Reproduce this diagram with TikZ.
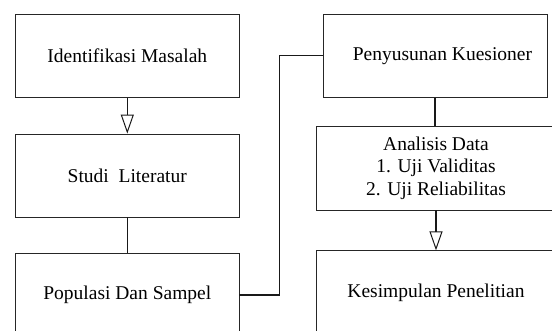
\documentclass[tikz,border=0pt]{standalone}
\usepackage{fontspec}
\setmainfont{Liberation Serif}
\usetikzlibrary{arrows.meta}
\begin{document}
\begin{tikzpicture}[x=1pt,y=-1pt,
  flowbox/.style={draw=black!85, line width=0.8pt, rectangle, inner sep=0pt,
    align=center, font=\fontsize{19.5}{22.5}\selectfont},
  link/.style={draw=black!90, line width=1.2pt},
  openarrow/.style={link, -{Triangle[open, length=19pt, width=13pt, line width=1pt]}}]
  \useasboundingbox (0,0) rectangle (552,331);
  \clip (0,0) rectangle (552,331);

  % left column
  \node[flowbox, minimum width=223.3pt, minimum height=83.7pt] (b1) at (127.3,55.9) {Identifikasi Masalah};
  \node[flowbox, minimum width=223.3pt, minimum height=83pt] (b2) at (127.3,175.5) {Studi\ \ Literatur};
  \node[flowbox, minimum width=223.3pt, minimum height=84pt] (b3) at (127.3,295) {Populasi Dan Sampel};

  % right column
  \node[flowbox, minimum width=224pt, minimum height=83.7pt] (b4) at (435,55.8) {\hspace*{15pt}Penyusunan Kuesioner};
  \node[flowbox, minimum width=240pt, minimum height=84pt] (b5) at (436,168) {Analisis Data\\1. Uji Validitas\\2. Uji Reliabilitas};
  \node[flowbox, minimum width=240pt, minimum height=85pt] (b6) at (436,293.3) {Kesimpulan Penelitian};

  % connectors
  \draw[openarrow] (b1.south) -- (b2.north);
  \draw[link] (b2.south) -- (b3.north);
  \draw[link] (b3.east) -- ++(40,0) |- (b4.west);
  \draw[link] (b4.south) -- (b4.south |- b5.north);
  \draw[openarrow] (b5.south) -- (b5.south |- b6.north);
\end{tikzpicture}
\end{document}
